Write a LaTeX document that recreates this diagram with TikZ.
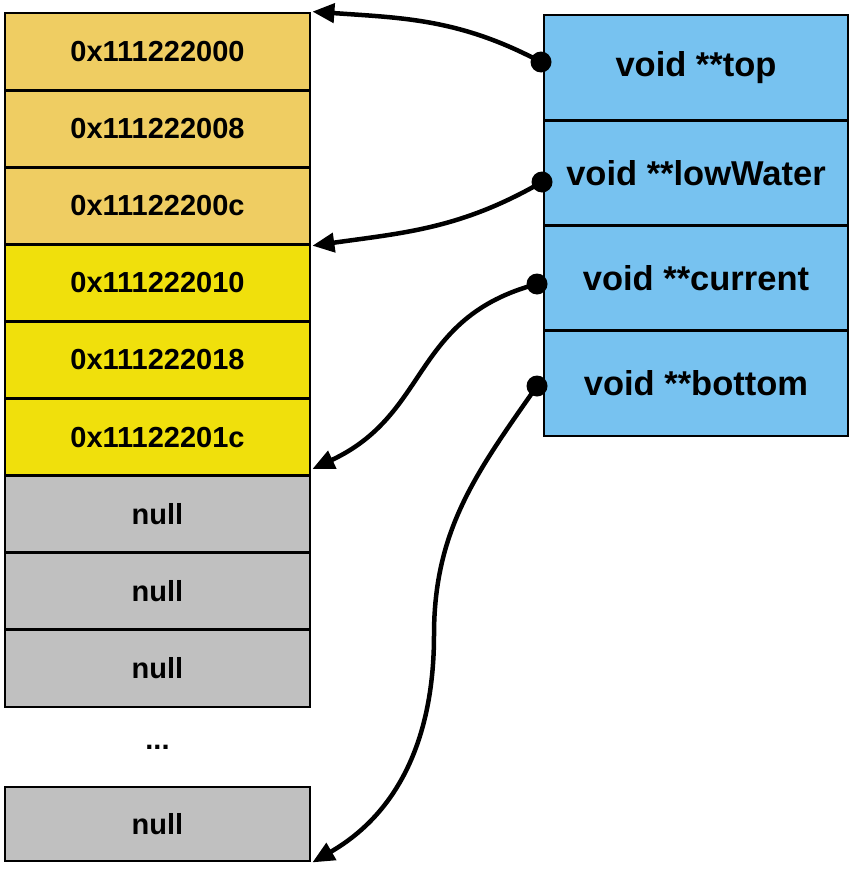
\documentclass[tikz,border=0pt]{standalone}
\usepackage{fontspec}
\setmainfont{Liberation Sans}
\usetikzlibrary{arrows.meta,positioning}
\definecolor{cellorange}{HTML}{EFCD62}
\definecolor{cellyellow}{HTML}{F0E00C}
\definecolor{cellgray}{HTML}{C0C0C0}
\definecolor{ptrblue}{HTML}{77C2F0}
\tikzset{
    cell/.style={draw, line width=2.8pt, minimum width=305pt, minimum height=77.1pt,
        inner sep=0pt, font=\bfseries\fontsize{29}{32}\selectfont},
    ptr/.style={draw, line width=2.8pt, fill=ptrblue, minimum width=304pt, minimum height=105.25pt,
        inner sep=0pt, font=\bfseries\fontsize{34.5}{38}\selectfont},
    dot/.style={circle, fill=black, inner sep=0pt, minimum size=21pt},
    link/.style={line width=4.5pt, -{Triangle[length=22pt,width=19pt]}}
}

\begin{document}
\begin{tikzpicture}[x=1pt, y=-1pt]
        \useasboundingbox (0,0) rectangle (852,870);

        % stack cells (left)
        \node[cell, fill=cellorange] (a1) at (157.5,51.55) {0x111222000};
        \node[cell, fill=cellorange] (a2) at (157.5,128.65) {0x111222008};
        \node[cell, fill=cellorange] (a3) at (157.5,205.75) {0x11122200c};
        \node[cell, fill=cellyellow] (a4) at (157.5,282.85) {0x111222010};
        \node[cell, fill=cellyellow] (a5) at (157.5,359.95) {0x111222018};
        \node[cell, fill=cellyellow] (a6) at (157.5,437.05) {0x11122201c};
        \node[cell, fill=cellgray] (a7) at (157.5,514.15) {null};
        \node[cell, fill=cellgray] (a8) at (157.5,591.25) {null};
        \node[cell, fill=cellgray] (a9) at (157.5,668.35) {null};
        \node[font=\bfseries\fontsize{29}{32}\selectfont] (gap) at (157.5,747) {...};
        \node[cell, fill=cellgray, minimum height=74pt] (a10) at (157.5,824) {null};

        % pointers (right)
        \node[ptr] (top) at (696,67.6) {void **top};
        \node[ptr] (low) at (696,172.9) {void **lowWater};
        \node[ptr] (cur) at (696,278.1) {void **current};
        \node[ptr] (bot) at (696,383.4) {void **bottom};

        % dots
        \node[dot] (dtop) at (541,62) {};
        \node[dot] (dlow) at (542,182) {};
        \node[dot] (dcur) at (537,284) {};
        \node[dot] (dbot) at (537,386) {};
        \coordinate (bmid) at (434,635);

        % links
        \draw[link] (dtop.center) to[out=152, in=-4] ([xshift=1pt]a1.north east);
        \draw[link] (dlow.center) to[out=210, in=8] ([xshift=1pt]a3.south east);
        \draw[link] (dcur.center) to[out=195, in=25, looseness=1.15] ([xshift=1pt, yshift=8pt]a6.south east);
        \draw[link] (dbot.center) to[out=235, in=90] (bmid) to[out=-90, in=30] ([xshift=1pt]a10.south east);

    \end{tikzpicture}
\end{document}
